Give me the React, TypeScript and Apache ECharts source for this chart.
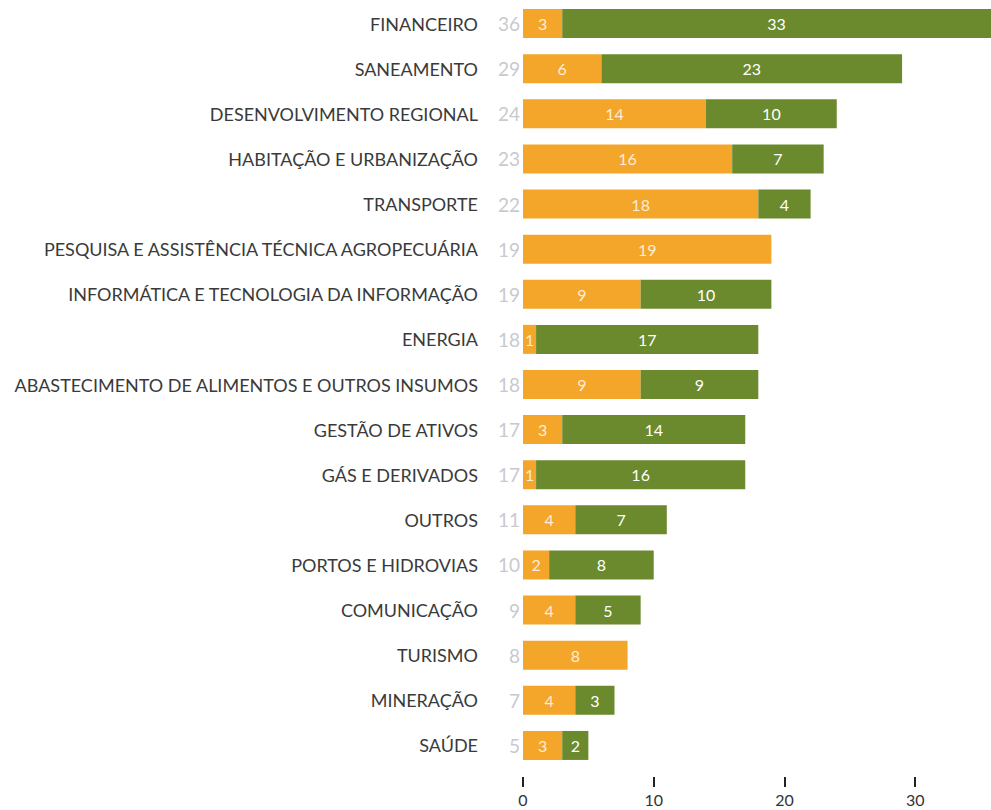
import React, { useEffect, useRef } from "react";
import * as echarts from "echarts";

const categories = [
  "FINANCEIRO",
  "SANEAMENTO",
  "DESENVOLVIMENTO REGIONAL",
  "HABITAÇÃO E URBANIZAÇÃO",
  "TRANSPORTE",
  "PESQUISA E ASSISTÊNCIA TÉCNICA AGROPECUÁRIA",
  "INFORMÁTICA E TECNOLOGIA DA INFORMAÇÃO",
  "ENERGIA",
  "ABASTECIMENTO DE ALIMENTOS E OUTROS INSUMOS",
  "GESTÃO DE ATIVOS",
  "GÁS E DERIVADOS",
  "OUTROS",
  "PORTOS E HIDROVIAS",
  "COMUNICAÇÃO",
  "TURISMO",
  "MINERAÇÃO",
  "SAÚDE",
];
const orangeValues = [3, 6, 14, 16, 18, 19, 9, 1, 9, 3, 1, 4, 2, 4, 8, 4, 3];
const greenValues: (number | null)[] = [33, 23, 10, 7, 4, null, 10, 17, 9, 14, 16, 7, 8, 5, null, 3, 2];
const totals = [36, 29, 24, 23, 22, 19, 19, 18, 18, 17, 17, 11, 10, 9, 8, 7, 5];
const xTicks = [0, 10, 20, 30];

const ORANGE = "#F4A62A";
const GREEN = "#6B8A2D";

export default function App() {
  const ref = useRef<HTMLDivElement>(null);
  useEffect(() => {
    if (!ref.current) return;
    const chart = echarts.init(ref.current, null, { renderer: "svg" });
    const FONT = "Lato";
    chart.setOption({
      animation: false,
      grid: { left: 523, right: 0, top: 1, height: 767, containLabel: false },
      xAxis: {
        type: "value",
        min: xTicks[0],
        max: 35.8,
        interval: 10,
        offset: 9,
        splitLine: { show: false },
        axisLine: { show: false },
        axisTick: { show: true, length: 10, lineStyle: { color: "#222", width: 2 } },
        axisLabel: {
          fontFamily: FONT,
          fontSize: 16,
          color: "#333",
          margin: 14,
          showMaxLabel: false,
          formatter: (v: number) => (xTicks.includes(v) ? String(v) : ""),
        },
      },
      yAxis: {
        type: "category",
        inverse: true,
        data: categories,
        axisLine: { show: false },
        axisTick: { show: false },
        axisLabel: {
          margin: 3,
          formatter: (name: string) => {
            const i = categories.indexOf(name);
            return `{n|${name}}{t|${totals[i]}}`;
          },
          rich: {
            n: { fontFamily: FONT, fontSize: 18, color: "#3a3a3a" },
            t: { fontFamily: FONT, fontSize: 19, color: "#c9c9cf", width: 42, align: "right" },
          },
        },
      },
      series: [
        {
          type: "bar",
          stack: "s",
          data: orangeValues,
          barWidth: 29,
          itemStyle: { color: ORANGE },
          label: {
            show: true,
            position: "inside",
            color: "rgba(255,255,255,0.82)",
            fontFamily: FONT,
            fontSize: 16,
          },
        },
        {
          type: "bar",
          stack: "s",
          data: greenValues,
          barWidth: 29,
          itemStyle: { color: GREEN },
          label: {
            show: true,
            position: "inside",
            color: "#ffffff",
            fontFamily: FONT,
            fontSize: 16,
          },
        },
      ],
    });
    return () => chart.dispose();
  }, []);
  return (
    <div
      ref={ref}
      style={{ position: "fixed", left: 0, top: 0, width: 991, height: 810, background: "#fff" }}
    />
  );
}
